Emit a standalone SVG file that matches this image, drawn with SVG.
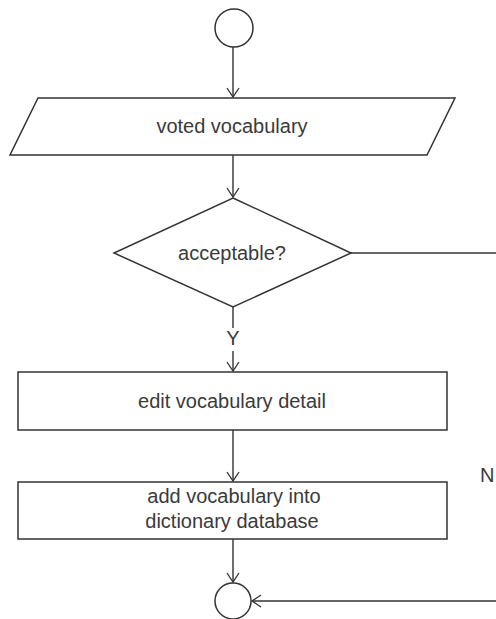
<svg xmlns="http://www.w3.org/2000/svg" width="496" height="619" viewBox="0 0 496 619">
  <defs>
    <marker id="arr" markerWidth="14" markerHeight="14" refX="10" refY="7" orient="auto" markerUnits="userSpaceOnUse">
      <path d="M1,1 L10,7 L1,13" fill="none" stroke="#333" stroke-width="1.3"/>
    </marker>
  </defs>
  <style>
    .shape { fill: #ffffff; stroke: #333333; stroke-width: 1.5; }
    .conn { fill: none; stroke: #333333; stroke-width: 1.4; }
    .lbl { font-family: "Liberation Sans", Arial, sans-serif; font-size: 20px; fill: #3a3a3a; text-anchor: middle; }
  </style>
  <rect x="0" y="0" width="496" height="619" fill="#ffffff"/>

  <g id="connectors">
    <line class="conn" x1="233" y1="47" x2="233" y2="97" marker-end="url(#arr)"/>
    <line class="conn" x1="233" y1="155" x2="233" y2="197" marker-end="url(#arr)"/>
    <line class="conn" x1="233" y1="307" x2="233" y2="371" marker-end="url(#arr)"/>
    <line class="conn" x1="351" y1="253" x2="496" y2="253"/>
    <line class="conn" x1="233" y1="430" x2="233" y2="481" marker-end="url(#arr)"/>
    <line class="conn" x1="233" y1="539" x2="233" y2="582" marker-end="url(#arr)"/>
    <line class="conn" x1="496" y1="601" x2="252" y2="601" marker-end="url(#arr)"/>
    <rect x="224" y="328" width="18" height="23" fill="#ffffff"/>
    <text class="lbl" x="233" y="345">Y</text>
    <text class="lbl" x="480" y="482" style="text-anchor:start">N</text>
  </g>

  <g id="start">
    <circle class="shape" cx="234" cy="28" r="19"/>
  </g>

  <g id="voted-vocabulary">
    <polygon class="shape" points="38,98 455,98 427,155 10,155"/>
    <text class="lbl" x="232" y="133">voted vocabulary</text>
  </g>

  <g id="acceptable">
    <polygon class="shape" points="233,198 351,253 233,307 114,253"/>
    <text class="lbl" x="232" y="260">acceptable?</text>
  </g>

  <g id="edit-detail">
    <rect class="shape" x="18" y="372" width="429" height="58"/>
    <text class="lbl" x="232" y="408">edit vocabulary detail</text>
  </g>

  <g id="add-into-db">
    <rect class="shape" x="18" y="482" width="429" height="57"/>
    <text class="lbl" x="234" y="503">add vocabulary into</text>
    <text class="lbl" x="232" y="528">dictionary database</text>
  </g>

  <g id="end">
    <circle class="shape" cx="233" cy="601" r="18"/>
  </g>
</svg>
